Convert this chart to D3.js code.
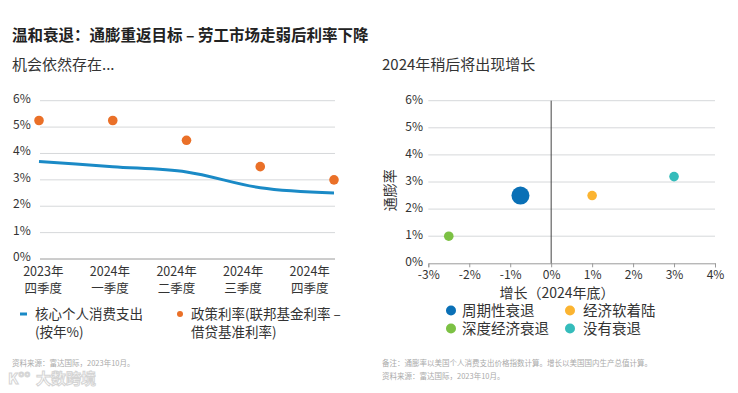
<!DOCTYPE html>
<html>
<head>
<meta charset="utf-8">
<script src="https://cdn.jsdelivr.net/npm/d3@7"></script>
<style>
  body { margin: 0; background: #fff; }
  svg { display: block; font-family: "Noto Sans CJK SC", "Noto Sans", sans-serif; }
</style>
</head>
<body>
<script>
// Left chart data
const quarters = [["2023年", "四季度"], ["2024年", "一季度"], ["2024年", "二季度"], ["2024年", "三季度"], ["2024年", "四季度"]];
const corePce = [3.7, 3.5, 3.3, 2.7, 2.5];
const policyRate = [5.25, 5.25, 4.5, 3.5, 3.0];
const leftTicks = [0, 1, 2, 3, 4, 5, 6];

// Right chart data
const scenarios = ["周期性衰退", "经济软着陆", "深度经济衰退", "没有衰退"];
const growth = [-0.75, 1.0, -2.5, 3.0];
const inflation = [2.5, 2.5, 1.0, 3.2];
const bubbleSize = [9, 4.8, 4.8, 4.8];
const scenarioColors = ["#0a70b6", "#fbb431", "#7cc144", "#35bcbb"];
const xTicks = [-3, -2, -1, 0, 1, 2, 3, 4];
const rightTicks = [0, 1, 2, 3, 4, 5, 6];

const W = 738, H = 393;
const svg = d3.select("body").append("svg").attr("width", W).attr("height", H);

// Titles
svg.append("text").attr("x", 12).attr("y", 41)
   .style("font-size", "15.5px").style("font-weight", "bold").attr("fill", "#222")
   .text("温和衰退：通膨重返目标 – 劳工市场走弱后利率下降");
svg.append("text").attr("x", 12).attr("y", 70)
   .style("font-size", "15px").attr("fill", "#333")
   .text("机会依然存在...");
svg.append("text").attr("x", 382).attr("y", 70)
   .style("font-size", "15px").attr("fill", "#333")
   .text("2024年稍后将出现增长");

// ---- Left chart ----
const y1 = d3.scaleLinear().domain([0, 6]).range([259, 100.7]);
const x1 = d3.scalePoint().domain(d3.range(quarters.length)).range([39, 334]);
const xLab = d3.scalePoint().domain(d3.range(quarters.length)).range([10, 343]).padding(0.5);

const left = svg.append("g");
left.selectAll("line.grid").data(leftTicks.filter(d => d > 0)).join("line")
    .attr("x1", 40).attr("x2", 335)
    .attr("y1", d => y1(d)).attr("y2", d => y1(d))
    .attr("stroke", "#d6d8da").attr("stroke-width", 1);
left.append("line").attr("x1", 40).attr("x2", 335).attr("y1", y1(0)).attr("y2", y1(0))
    .attr("stroke", "#9a9a9a").attr("stroke-width", 1);
left.selectAll("text.yt").data(leftTicks).join("text")
    .attr("x", 13).attr("y", d => y1(d) + 2)
    .style("font-size", "12px").attr("fill", "#333")
    .text(d => d + "%");

left.append("path").datum(corePce)
    .attr("fill", "none").attr("stroke", "#1a8ac6").attr("stroke-width", 3)
    .attr("d", d3.line().x((d, i) => x1(i)).y(d => y1(d)).curve(d3.curveMonotoneX));

left.selectAll("circle.pol").data(policyRate).join("circle")
    .attr("cx", (d, i) => x1(i)).attr("cy", d => y1(d)).attr("r", 4.8)
    .attr("fill", "#ea7028");

const xl = left.selectAll("g.xl").data(quarters).join("g")
    .attr("transform", (d, i) => `translate(${xLab(i)},0)`);
xl.append("text").attr("y", 276).attr("text-anchor", "middle")
  .style("font-size", "12.5px").attr("fill", "#333").text(d => d[0]);
xl.append("text").attr("y", 293).attr("text-anchor", "middle")
  .style("font-size", "12.5px").attr("fill", "#333").text(d => d[1]);

// Left legend
left.append("rect").attr("x", 20).attr("y", 312.5).attr("width", 7).attr("height", 3).attr("fill", "#1a8ac6");
left.append("text").attr("x", 35).attr("y", 319).style("font-size", "13.5px").attr("fill", "#333").text("核心个人消费支出");
left.append("text").attr("x", 35).attr("y", 337).style("font-size", "13.5px").attr("fill", "#333").text("(按年%)");
left.append("circle").attr("cx", 180).attr("cy", 314).attr("r", 3).attr("fill", "#ea7028");
left.append("text").attr("x", 191).attr("y", 319).style("font-size", "13.5px").attr("fill", "#333").text("政策利率(联邦基金利率 –");
left.append("text").attr("x", 191).attr("y", 337).style("font-size", "13.5px").attr("fill", "#333").text("借贷基准利率)");

left.append("text").attr("x", 12).attr("y", 366).style("font-size", "7.5px").attr("fill", "#aaa")
    .text("资料来源：富达国际，2023年10月。");
left.append("text").attr("x", 36).attr("y", 384).style("font-size", "15px").style("font-weight", "bold")
    .attr("fill", "#fff").attr("stroke", "#d4d4d4").attr("stroke-width", 1)
    .text("大数跨境");
left.append("text").attr("x", 8).attr("y", 384).style("font-size", "15px").style("font-weight", "bold")
    .attr("fill", "#fff").attr("stroke", "#d4d4d4").attr("stroke-width", 1)
    .text("K°°");

// ---- Right chart ----
const x2 = d3.scaleLinear().domain([-3, 4]).range([428.3, 715]);
const y2 = d3.scaleLinear().domain([0, 6]).range([263.3, 100.7]);
const right = svg.append("g");

right.selectAll("line.grid").data(rightTicks.filter(d => d > 0)).join("line")
    .attr("x1", x2(-3)).attr("x2", x2(4))
    .attr("y1", d => y2(d)).attr("y2", d => y2(d))
    .attr("stroke", "#d6d8da").attr("stroke-width", 1);
right.selectAll("text.yt").data(rightTicks).join("text")
    .attr("x", 423).attr("y", d => y2(d) + 3).attr("text-anchor", "end")
    .style("font-size", "12px").attr("fill", "#333")
    .text(d => d + "%");

const xAxis = right.append("g").attr("transform", `translate(0,${y2(0)})`)
    .call(d3.axisBottom(x2).tickValues(xTicks).tickSize(4).tickFormat(d => d + "%"));
xAxis.select(".domain").attr("stroke", "#9a9a9a");
xAxis.selectAll(".tick line").attr("stroke", "#9a9a9a");
xAxis.selectAll(".tick text").attr("fill", "#333").style("font-size", "12px")
    .style("font-family", "\"Noto Sans CJK SC\", sans-serif").attr("dy", "0.75em");

right.append("line").attr("x1", x2(0)).attr("x2", x2(0)).attr("y1", y2(6)).attr("y2", y2(0))
    .attr("stroke", "#444").attr("stroke-width", 1);

right.selectAll("circle.sc").data(scenarios).join("circle")
    .attr("cx", (d, i) => x2(growth[i])).attr("cy", (d, i) => y2(inflation[i]))
    .attr("r", (d, i) => bubbleSize[i]).attr("fill", (d, i) => scenarioColors[i]);

right.append("text").attr("transform", `translate(395,${y2(2.7)}) rotate(-90)`)
    .attr("text-anchor", "middle").style("font-size", "14px").attr("fill", "#333").text("通膨率");
right.append("text").attr("x", 557).attr("y", 298).attr("text-anchor", "middle")
    .style("font-size", "14px").attr("fill", "#333").text("增长（2024年底）");

// Right legend
const legPos = [[451, 310.5], [570, 310.5], [451, 328.5], [570, 328.5]];
const leg = right.selectAll("g.leg").data(scenarios).join("g")
    .attr("transform", (d, i) => `translate(${legPos[i][0]},${legPos[i][1]})`);
leg.append("circle").attr("r", 5).attr("fill", (d, i) => scenarioColors[i]);
leg.append("text").attr("x", (d, i) => i % 2 === 0 ? 11 : 13).attr("y", 5.5)
   .style("font-size", "14.5px").attr("fill", "#333").text(d => d);

right.append("text").attr("x", 382).attr("y", 366).style("font-size", "7.5px").attr("fill", "#aaa")
    .text("备注：通膨率以美国个人消费支出价格指数计算。增长以美国国内生产总值计算。");
right.append("text").attr("x", 382).attr("y", 379).style("font-size", "7.5px").attr("fill", "#aaa")
    .text("资料来源：富达国际，2023年10月。");
</script>
</body>
</html>
